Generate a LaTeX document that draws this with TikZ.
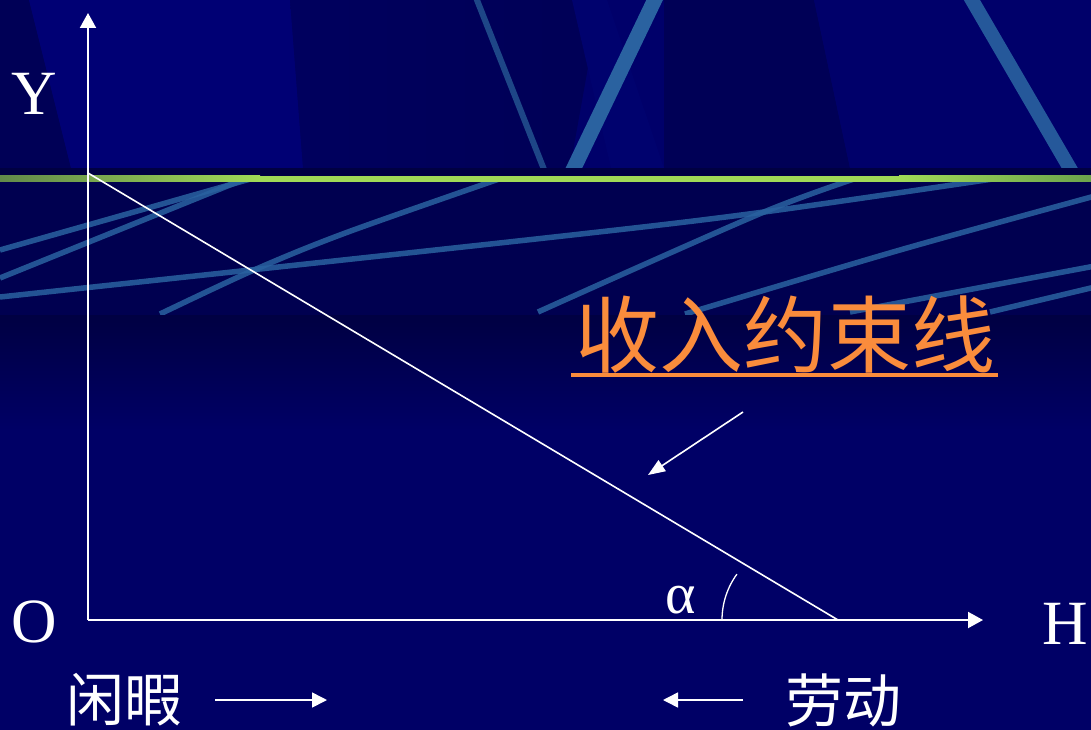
\documentclass[tikz,border=0pt]{standalone}
\usepackage{fontspec}
\setmainfont{Liberation Serif}
\newfontfamily\cjk{Noto Sans CJK SC}
\usetikzlibrary{arrows.meta}
\definecolor{navy}{RGB}{0,0,102}
\definecolor{topnavy}{RGB}{0,0,106}
\definecolor{darknavy}{RGB}{0,0,86}
\definecolor{midnavy}{RGB}{0,0,94}
\definecolor{litenavy}{RGB}{0,0,116}
\definecolor{glownavy}{RGB}{0,2,110}
\definecolor{bandnavy}{RGB}{0,0,80}
\definecolor{stripnavy}{RGB}{0,0,66}
\definecolor{streak}{RGB}{42,98,160}
\definecolor{dimstreak}{RGB}{30,70,135}
\definecolor{grnA}{RGB}{98,138,74}
\definecolor{grnB}{RGB}{160,218,86}
\definecolor{grnC}{RGB}{108,164,76}
\definecolor{titleorange}{RGB}{250,140,60}
\tikzset{
  lbl/.style={text=white, inner sep=0pt, font=\fontsize{63}{63}\selectfont},
  greek/.style={text=white, inner sep=0pt, font=\fontsize{58}{58}\selectfont},
  cjklbl/.style={text=white, inner sep=0pt, font=\cjk\fontsize{58}{58}\selectfont},
  titlelbl/.style={text=titleorange, inner sep=0pt, font=\cjk\fontsize{84}{84}\selectfont},
  axis/.style={white, line width=2pt, -{Triangle[length=15pt,width=16pt]}},
  budget/.style={white, line width=1.6pt},
  pointer/.style={white, line width=1.6pt, -{Triangle[length=17pt,width=13pt]}},
  dirarrow/.style={white, line width=1.6pt, -{Triangle[length=15pt,width=15pt]}},
  bandstreak/.style={streak, line width=5.5pt, opacity=0.85},
}
\begin{document}
\begin{tikzpicture}[x=1pt,y=-1pt]
\useasboundingbox (0,0) rectangle (1091,730);
% ---------- background ----------
\fill[navy] (0,0) rectangle (1091,730);
% top decorative region
\fill[topnavy] (0,0) rectangle (1091,168);
\fill[darknavy] (0,0) -- (29,0) -- (71,168) -- (0,168) -- cycle;
\fill[litenavy] (29,0) -- (290,0) -- (303,168) -- (71,168) -- cycle;
\shade[left color=midnavy, right color=darknavy] (290,0) -- (600,0) -- (570,168) -- (303,168) -- cycle;
\fill[glownavy] (572,0) -- (607,0) -- (664,168) -- (611,168) -- cycle;
\fill[darknavy] (664,0) -- (814,0) -- (850,168) -- (664,168) -- cycle;
\fill[topnavy] (814,0) -- (964,0) -- (1070,168) -- (850,168) -- cycle;
\begin{scope}
  \clip (0,0) rectangle (1091,168);
  \draw[dimstreak, line width=6pt] (475,-5) -- (545,172);
  \draw[streak, line width=15pt] (657,-5) -- (572,172);
  \draw[streak, line width=14pt, opacity=0.9] (969,-5) -- (1072,172);
\end{scope}
% dark strip and green rule
\fill[stripnavy] (0,168) rectangle (1091,176);
\shade[left color=grnA, right color=grnB] (0,176) rectangle (260,182);
\fill[grnB] (259,176) rectangle (900,182);
\shade[left color=grnB, right color=grnC] (899,176) rectangle (1091,182);
% lower decorative band
\fill[bandnavy] (0,182) rectangle (1091,315);
\begin{scope}
  \clip (0,182) rectangle (1091,315);
  \draw[bandstreak] (0,250) -- (282,170);
  \draw[bandstreak] (0,278) -- (262,172);
  \draw[bandstreak] plot[smooth] coordinates {(0,297) (545,238) (764,212) (1040,172)};
  \draw[bandstreak] plot[smooth] coordinates {(160,314) (254,270) (348,232) (525,170)};
  \draw[bandstreak] plot[smooth] coordinates {(538,312) (764,212) (875,172)};
  \draw[bandstreak] plot[smooth] coordinates {(685,314) (900,250) (1095,196)};
  \draw[bandstreak] (850,312) -- (1095,266);
  \draw[bandstreak] (990,312) -- (1095,287);
\end{scope}
\shade[top color=stripnavy, bottom color=navy] (0,315) rectangle (1091,430);
% ---------- diagram ----------
\coordinate (O) at (88,620);
\coordinate (Ytip) at (88,13);
\coordinate (Htip) at (983,620);
\coordinate (B1) at (88,173);
\coordinate (B2) at (838,620);
\coordinate (P1) at (743,412);
\coordinate (P2) at (648,475);
\coordinate (arcstart) at (722,620);
\coordinate (L1) at (215,700);
\coordinate (L2) at (327,700);
\coordinate (R1) at (743,700);
\coordinate (R2) at (663,700);
\coordinate (ulA) at (571,375);
\coordinate (ulB) at (998,375);

\draw[axis] (O) -- (Ytip);
\draw[axis] (O) -- (Htip);
\draw[budget] (B1) -- (B2);
\draw[white, line width=1.3pt] (arcstart) arc[start angle=180, end angle=216, radius=78];

\node[lbl] (Ylab) at (34,94) {Y};
\node[lbl] (Olab) at (34,622) {O};
\node[lbl] (Hlab) at (1065,624) {H};
\node[greek, anchor=base] (alab) at (681,613) {α};

\node[titlelbl] (title) at (785,335) {收入约束线};
\draw[titleorange, line width=4pt] (ulA) -- (ulB);
\draw[pointer] (P1) -- (P2);

\node[cjklbl] (leisure) at (124,700) {闲暇};
\node[cjklbl] (labour) at (843,700) {劳动};
\draw[dirarrow] (L1) -- (L2);
\draw[dirarrow] (R1) -- (R2);
\end{tikzpicture}
\end{document}
